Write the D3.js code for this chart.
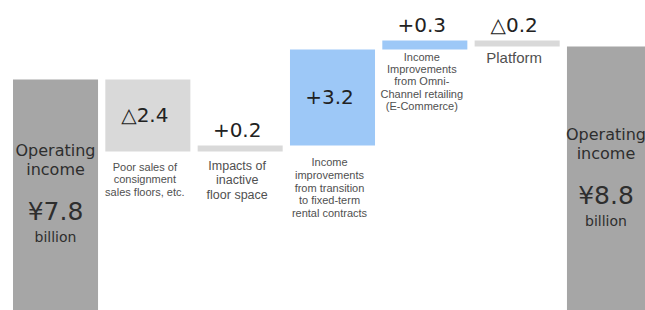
<!DOCTYPE html>
<html>
<head>
<meta charset="utf-8">
<script src="https://cdn.jsdelivr.net/npm/d3@7"></script>
<style>
  body { margin: 0; background: #fff; }
</style>
</head>
<body>
<div id="chart"></div>
<script>
// Waterfall steps, left to right
const categories = ["start", "consignment", "inactive", "fixedTerm", "omni", "platform", "end"];
const changes = [7.8, -2.4, 0.2, 3.2, 0.3, -0.2, 8.8];
const isTotal = [true, false, false, false, false, false, true];
const valueLabels = ["¥7.8", "△2.4", "+0.2", "+3.2", "+0.3", "△0.2", "¥8.8"];
const descriptions = [
  [],
  ["Poor sales of", "consignment", "sales floors, etc."],
  ["Impacts of", "inactive", "floor space"],
  ["Income", "improvements", "from transition", "to fixed-term", "rental contracts"],
  ["Income", "Improvements", "from Omni-", "Channel retailing", "(E-Commerce)"],
  ["Platform"],
  []
];

const width = 645, height = 310;

// colours by step
const color = d3.scaleOrdinal()
  .domain(categories)
  .range(["#a6a6a6", "#d9d9d9", "#d9d9d9", "#9dc8f7", "#9dc8f7", "#d9d9d9", "#a6a6a6"]);

// description styles / offsets below each bar
const descStyle = {
  consignment: { size: 11, gap: 19, lh: 12.5 },
  inactive: { size: 12.5, gap: 18, lh: 14.5 },
  fixedTerm: { size: 11, gap: 20.5, lh: 12.8 },
  omni: { size: 11, gap: 11.5, lh: 12.2 },
  platform: { size: 15, gap: 16.5, lh: 15 }
};

// running totals (end bar drawn at the running total, as in the picture)
let run = 0;
const steps = categories.map((c, i) => {
  let from, to;
  if (isTotal[i]) {
    from = 0;
    to = i === 0 ? changes[i] : run;
    run = to;
  } else {
    from = run;
    to = run + changes[i];
    run = to;
  }
  return { key: c, from, to, label: valueLabels[i], total: isTotal[i], desc: descriptions[i] };
});

const x = d3.scaleBand()
  .domain(categories)
  .range([13, 652])
  .paddingInner(0.079)
  .paddingOuter(0);

const y = d3.scaleLinear()
  .domain([0, 10])
  .range([313.5, 13.5]);

const svg = d3.select("#chart")
  .append("svg")
  .attr("width", width)
  .attr("height", height)
  .style("display", "block");

svg.append("rect")
  .attr("width", width)
  .attr("height", height)
  .attr("fill", "#fff");

// bars
svg.selectAll(".bar")
  .data(steps)
  .enter()
  .append("rect")
  .attr("class", "bar")
  .attr("x", d => x(d.key))
  .attr("width", x.bandwidth())
  .attr("y", d => y(Math.max(d.from, d.to)))
  .attr("height", d => Math.abs(y(d.from) - y(d.to)))
  .attr("fill", d => color(d.key));

// total bars: text block centred in the visible part of the bar
steps.filter(d => d.total).forEach(d => {
  const x0 = Math.max(x(d.key), 0);
  const x1 = Math.min(x(d.key) + x.bandwidth(), width);
  const cx = (x0 + x1) / 2;
  const cy = (y(d.to) + height) / 2;
  const lines = [
    { t: "Operating", dy: -38.5, size: 16 },
    { t: "income", dy: -19.5, size: 16 },
    { t: d.label, dy: 25.5, size: 25 },
    { t: "billion", dy: 47.5, size: 14 }
  ];
  lines.forEach(l => {
    svg.append("text")
      .attr("x", cx)
      .attr("y", cy + l.dy)
      .attr("text-anchor", "middle")
      .attr("font-family", "DejaVu Sans, sans-serif")
      .attr("font-size", l.size + "px")
      .attr("fill", "#2e2e2e")
      .text(l.t);
  });
});

// change bars: value label inside big bars, above thin ones
steps.filter(d => !d.total).forEach(d => {
  const top = y(Math.max(d.from, d.to));
  const bottom = y(Math.min(d.from, d.to));
  const cx = x(d.key) + x.bandwidth() / 2 - 3;
  const ty = (bottom - top) > 30 ? (top + bottom) / 2 + 6 : top - 9;
  svg.append("text")
    .attr("x", cx)
    .attr("y", ty)
    .attr("text-anchor", "middle")
    .attr("font-family", "DejaVu Sans, sans-serif")
    .attr("font-size", "20px")
    .attr("fill", "#222")
    .text(d.label);

  const st = descStyle[d.key];
  d.desc.forEach((line, j) => {
    svg.append("text")
      .attr("x", cx)
      .attr("y", bottom + st.gap + j * st.lh)
      .attr("text-anchor", "middle")
      .attr("font-family", "Liberation Sans, Arial, sans-serif")
      .attr("font-size", st.size + "px")
      .attr("fill", "#505050")
      .text(line);
  });
});
</script>
</body>
</html>
